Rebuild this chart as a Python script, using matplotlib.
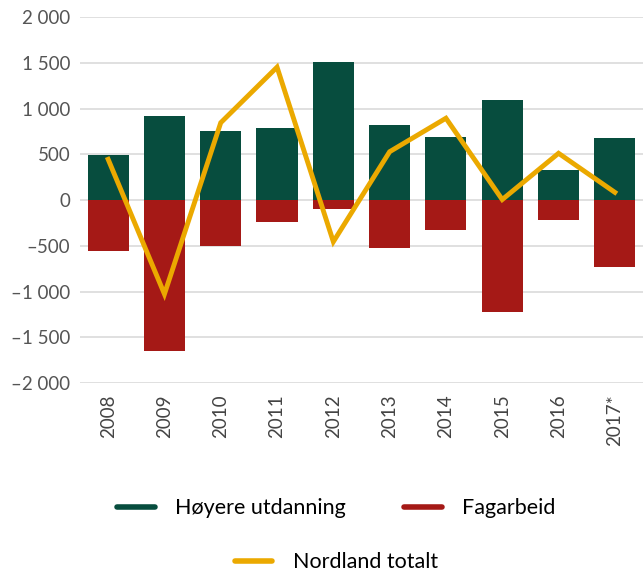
import matplotlib
matplotlib.use('Agg')
import matplotlib.pyplot as plt
from matplotlib.lines import Line2D
from matplotlib.ticker import FuncFormatter, MultipleLocator
import numpy as np

# Data lest fra figuren
aar = ['2008', '2009', '2010', '2011', '2012', '2013', '2014', '2015', '2016', '2017*']
hoyere_utdanning = [490, 920, 755, 790, 1510, 820, 690, 1095, 330, 680]
fagarbeid = [-558, -1650, -503, -241, -98, -522, -328, -1225, -219, -730]
nordland_totalt = [445, -1028, 845, 1452, -456, 528, 894, 5, 511, 84]

GRONN = '#074D3E'
ROD = '#A51916'
GUL = '#EBA900'

plt.rcParams['font.family'] = ['Lato', 'DejaVu Sans']

fig = plt.figure(figsize=(6.43, 5.71), dpi=100)
ax = fig.add_axes([0.1244, 0.3292, 0.8756, 0.641])

x = np.arange(len(aar))
ax.bar(x, hoyere_utdanning, 0.73, color=GRONN, zorder=2)
ax.bar(x, fagarbeid, 0.73, color=ROD, zorder=2)
ax.plot(x, nordland_totalt, color=GUL, lw=3.5, zorder=3, solid_joinstyle='miter')

ax.set_xlim(-0.5, len(aar) - 0.5)
ax.set_ylim(-2000, 2000)
ax.yaxis.set_major_locator(MultipleLocator(500))

def tusen(v, pos):
    s = f"{abs(int(v)):,}".replace(',', ' ')
    return ('\u2013' + s) if v < 0 else s

ax.yaxis.set_major_formatter(FuncFormatter(tusen))
ax.grid(axis='y', color='#DDDDDD', lw=1.3, zorder=0)
ax.set_axisbelow(True)
for s in ax.spines.values():
    s.set_visible(False)
ax.tick_params(axis='both', length=0, labelsize=13.5, colors='#555555')
ax.tick_params(axis='y', pad=7)
ax.tick_params(axis='x', pad=8)
ax.set_xticks(x)
ax.set_xticklabels(aar, rotation=90, color='#444444')

# Tegnforklaring
h1 = [Line2D([], [], color=GRONN, lw=4, solid_capstyle='round'),
      Line2D([], [], color=ROD, lw=4, solid_capstyle='round')]
leg1 = fig.legend(h1, ['Høyere utdanning', 'Fagarbeid'], ncol=2, frameon=False,
                  loc='center', bbox_to_anchor=(0.523, 0.11), fontsize=15.5,
                  handlelength=1.75, handletextpad=0.95, columnspacing=2.7)
h2 = [Line2D([], [], color=GUL, lw=4, solid_capstyle='round')]
leg2 = fig.legend(h2, ['Nordland totalt'], frameon=False, loc='center',
                  bbox_to_anchor=(0.523, 0.015), fontsize=15.5,
                  handlelength=1.75, handletextpad=0.95)

fig.savefig('out.png', dpi=100)
